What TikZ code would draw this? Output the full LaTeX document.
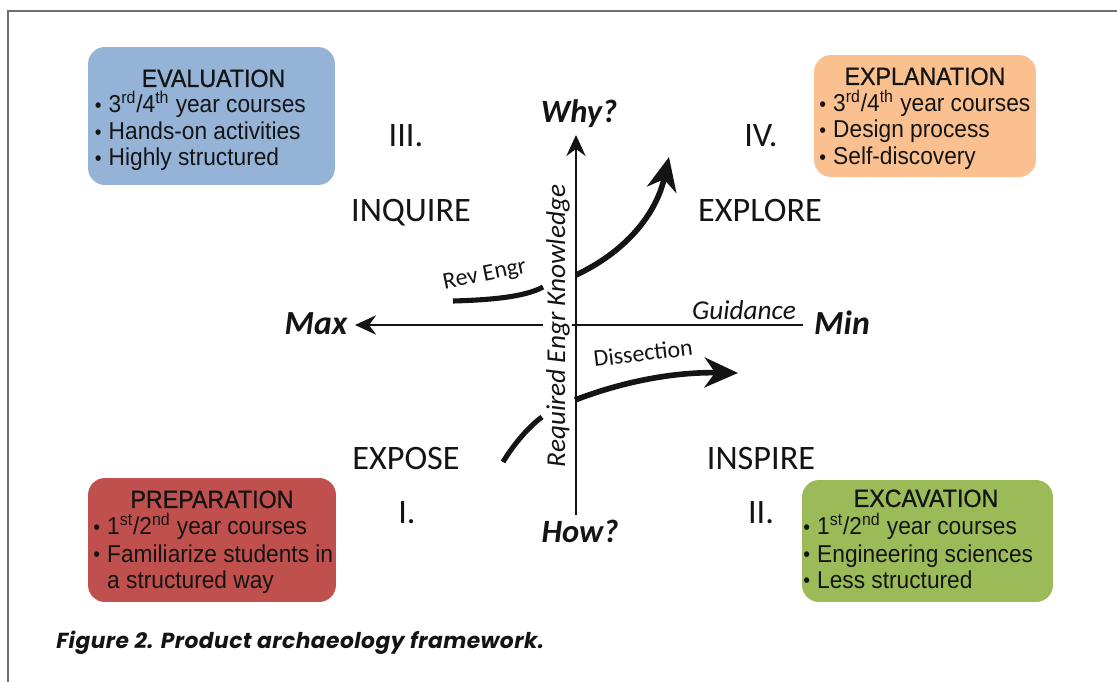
\documentclass[tikz,border=0pt]{standalone}
\usepackage{fontspec}
\setmainfont{Liberation Sans}
\newfontfamily\calfont{Carlito}
\newfontfamily\boxfont[FakeStretch=0.93]{Liberation Sans}
\newfontfamily\boxtitlefont[FakeStretch=0.93,FakeBold=0.8]{Liberation Sans}
\newfontfamily\capfont[LetterSpace=2]{Poppins}
\usetikzlibrary{arrows.meta}
\definecolor{evblue}{HTML}{95B3D7}
\definecolor{exorange}{HTML}{FAC090}
\definecolor{prred}{HTML}{C0504D}
\definecolor{exgreen}{HTML}{9BBB59}
\definecolor{framegray}{HTML}{6E6E6E}
\definecolor{txt}{HTML}{141414}
\newcommand\bul{\makebox[7.9pt][l]{\raisebox{0.2pt}{\scalebox{0.85}{•}}}}
\newcommand\nobul{\hspace*{7.9pt}}
\begin{document}
\begin{tikzpicture}[x=0.02cm,y=-0.02cm,
  qbox/.style={draw=none, rounded corners=0.34cm, inner sep=0},
  btitle/.style={font=\boxtitlefont\fontsize{14.2}{16}\selectfont, text=txt, anchor=base, inner sep=0},
  bline/.style={font=\boxfont\fontsize{13.9}{16}\selectfont, text=txt, anchor=base west, inner sep=0},
  biglbl/.style={font=\calfont\fontsize{19.5}{22}\selectfont, text=txt, anchor=base, inner sep=0},
  poslbl/.style={font=\calfont\bfseries\itshape\fontsize{18.5}{22}\selectfont, text=txt, anchor=base, inner sep=0},
  extlbl/.style={font=\calfont\bfseries\itshape\fontsize{19.2}{22}\selectfont, text=txt, anchor=base, inner sep=0},
  smlbl/.style={font=\calfont\fontsize{13.6}{16}\selectfont, text=txt, anchor=base, inner sep=0},
  itlbl/.style={font=\calfont\itshape\fontsize{15.5}{18}\selectfont, text=txt, anchor=base, inner sep=0},
  axisline/.style={line width=0.9pt, draw=txt},
  axtip/.style={-{Stealth[length=12pt,width=11pt,inset=4pt]}},
  thickcurve/.style={line width=2.9pt, draw=txt},
  thickarrow/.style={line width=3.2pt, draw=txt, -{Stealth[length=19pt,width=17pt,inset=6pt]}}
]
\useasboundingbox (0,0) rectangle (1117,682);
% frame
\coordinate (fbl) at (8,682);
\coordinate (ftl) at (8,11);
\coordinate (ftr) at (1117,11);
\draw[framegray, line width=0.85pt] (fbl) -- (ftl) -- (ftr);

% boxes
\node[qbox, fill=evblue, minimum width=4.94cm, minimum height=2.76cm] (evbox) at (211.5,116) {};
\node[qbox, fill=exorange, minimum width=4.44cm, minimum height=2.44cm] (explbox) at (925,116) {};
\node[qbox, fill=prred, minimum width=4.96cm, minimum height=2.48cm] (prbox) at (212,540) {};
\node[qbox, fill=exgreen, minimum width=5.02cm, minimum height=2.44cm] (exbox) at (927.5,541) {};

% EVALUATION
\node[btitle] (evt) at (213.5,87) {EVALUATION};
\node[bline] (ev1) at (94.5,113) {\bul 3\textsuperscript{rd}/4\textsuperscript{th} year courses};
\node[bline] (ev2) at (94.5,140) {\bul Hands-on activities};
\node[bline] (ev3) at (94.5,166) {\bul Highly structured};
% EXPLANATION
\node[btitle] (ext) at (925,85) {EXPLANATION};
\node[bline] (ex1) at (819,112) {\bul 3\textsuperscript{rd}/4\textsuperscript{th} year courses};
\node[bline] (ex2) at (819,138) {\bul Design process};
\node[bline] (ex3) at (819,165) {\bul Self-discovery};
% PREPARATION
\node[btitle] (prt) at (212,508) {PREPARATION};
\node[bline] (pr1) at (93,535) {\bul 1\textsuperscript{st}/2\textsuperscript{nd} year courses};
\node[bline] (pr2) at (93,562) {\bul Familiarize students in};
\node[bline] (pr3) at (93,588) {\nobul a structured way};
% EXCAVATION
\node[btitle] (exct) at (926,507) {EXCAVATION};
\node[bline] (exc1) at (803,535) {\bul 1\textsuperscript{st}/2\textsuperscript{nd} year courses};
\node[bline] (exc2) at (803,562) {\bul Engineering sciences};
\node[bline] (exc3) at (803,588) {\bul Less structured};

% quadrant labels
\node[biglbl] (q3) at (406,147) {III.};
\node[biglbl] (inq) at (411,222) {INQUIRE};
\node[biglbl] (q4) at (761,147) {IV.};
\node[biglbl] (expl) at (760,222) {EXPLORE};
\node[biglbl] (expo) at (406,470) {EXPOSE};
\node[biglbl] (q1) at (407,523) {I.};
\node[biglbl] (insp) at (761,470) {INSPIRE};
\node[biglbl] (q2) at (761,523) {II.};

% axes
\coordinate (vbot) at (576,515);
\coordinate (vtop) at (576,135);
\coordinate (hright) at (803,325);
\coordinate (hleft) at (355,325);
\draw[axisline, axtip] (vbot) -- (vtop);
\draw[axisline, axtip] (hright) -- (hleft);

\node[poslbl] (why) at (579,123) {Why?};
\node[poslbl] (how) at (580,542) {How?};
\node[extlbl] (max) at (316,335) {Max};
\node[extlbl] (min) at (842,335) {Min};
\node[itlbl] (guid) at (744,320) {Guidance};
\node[itlbl, rotate=90, fill=white, inner sep=1.5pt] (req) at (565,326) {Required Engr Knowledge};

% curves
\coordinate (rv1) at (453,301);
\coordinate (rv2) at (543,287);
\draw[thickcurve] (rv1) .. controls (490,300) and (525,297) .. (rv2);
\node[smlbl, rotate=11.5] (rev) at (486,281) {Rev Engr};

\coordinate (up1) at (576,275);
\coordinate (up2) at (669,157);
\draw[thickarrow] (up1) .. controls (625,252) and (656,215) .. (up2);

\coordinate (ds1) at (575,400);
\coordinate (ds2) at (738,373);
\draw[thickarrow] (ds1) .. controls (622,382) and (672,372) .. (ds2);
\node[smlbl, rotate=6.7] (diss) at (644,361) {Dissection};

\coordinate (lw1) at (503,462);
\coordinate (lw2) at (542,417);
\draw[thickcurve] (lw1) .. controls (512,447) and (527,428) .. (lw2);

% caption
\node[font=\capfont\bfseries\itshape\fontsize{12.4}{14}\selectfont, text=txt, anchor=base west, inner sep=0] (cap) at (56,648) {Figure 2. Product archaeology framework.};
\end{tikzpicture}
\end{document}
